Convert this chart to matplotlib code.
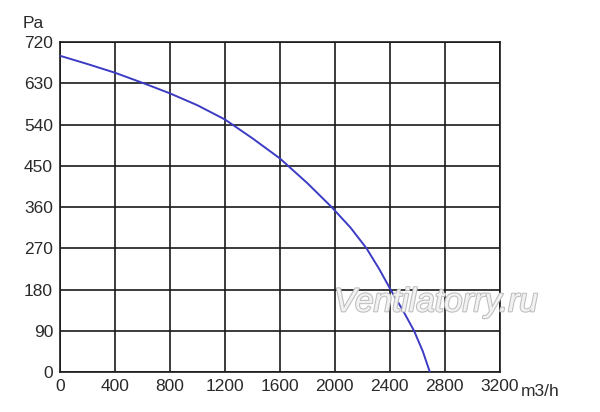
import numpy as np
import matplotlib.pyplot as plt
import matplotlib.patheffects as pe

plt.rcParams["font.family"] = ["Liberation Sans", "DejaVu Sans"]

# fan curve
flow = [0, 200, 400, 600, 800, 1000, 1200, 1400, 1600, 1800, 1976,
        2114, 2230, 2322, 2405, 2494, 2576, 2640, 2691]
pressure = [690, 672, 653, 631, 608, 582, 551, 510, 466, 412, 360,
            315, 270, 225, 180, 135, 90, 45, 0]

x_ticks = [0, 400, 800, 1200, 1600, 2000, 2400, 2800, 3200]
y_ticks = [0, 90, 180, 270, 360, 450, 540, 630, 720]

fig = plt.figure(figsize=(6, 4.12), dpi=100)
ax = fig.add_axes([0.1, 0.097, 0.733, 0.801])

ax.plot(flow, pressure, color="#3b3bc4", lw=1.4, zorder=3,
        solid_joinstyle="round")

ax.set_xlim(0, 3200)
ax.set_ylim(0, 720)
ax.set_xticks(x_ticks)
ax.set_yticks(y_ticks)
ax.tick_params(length=0, labelsize=12.5, pad=5, colors="#2a2a2a")
ax.grid(True, color="#1a1a1a", lw=1.2)
for s in ax.spines.values():
    s.set_color("#1a1a1a")
    s.set_linewidth(1.2)

ax.text(-0.06, 1.055, "Pa", transform=ax.transAxes, fontsize=12.5,
        ha="center", va="center", color="#2a2a2a")
ax.text(1.048, -0.036, "m3/h", transform=ax.transAxes, fontsize=12.5,
        ha="left", va="top", color="#2a2a2a")

ax.text(2737, 151, "Ventilatorry.ru", fontsize=24, style="italic",
        color="#f2f2f2", ha="center", va="center", zorder=4,
        path_effects=[pe.withStroke(linewidth=1.5, foreground="#bdbdbd")])

fig.savefig("out.png", dpi=100)
